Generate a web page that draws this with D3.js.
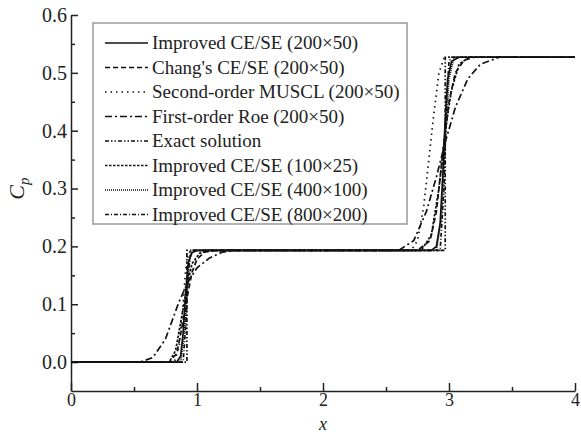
<!DOCTYPE html>
<html>
<head>
<meta charset="utf-8">
<script src="https://cdn.jsdelivr.net/npm/d3@7"></script>
<style>
body { margin: 0; background: #fff; }
svg { display: block; }
text { font-family: 'Liberation Serif', 'Times New Roman', serif; fill: #222; }
</style>
</head>
<body>
<script>
// series points [x, Cp]
var improved200 = [[0,0],[0.84,0],[0.87,0.01],[0.89,0.05],[0.91,0.12],[0.93,0.172],[0.96,0.189],[1.0,0.193],
    [2.86,0.193],[2.9,0.2],[2.93,0.24],[2.95,0.32],[2.97,0.42],[2.99,0.49],[3.02,0.52],[3.08,0.527],[4,0.527]];
var chang200 = [[0,0],[0.78,0],[0.84,0.015],[0.88,0.06],[0.92,0.11],[0.96,0.155],[1.0,0.178],[1.06,0.19],[1.15,0.193],
    [2.75,0.193],[2.85,0.21],[2.9,0.26],[2.95,0.36],[3.0,0.45],[3.05,0.5],[3.12,0.522],[3.2,0.527],[4,0.527]];
var muscl200 = [[0,0],[0.82,0],[0.86,0.03],[0.89,0.1],[0.91,0.16],[0.93,0.188],[0.96,0.193],
    [2.7,0.193],[2.75,0.21],[2.8,0.27],[2.84,0.35],[2.88,0.43],[2.92,0.5],[2.96,0.525],[3.0,0.527],[4,0.527]];
var roe200 = [[0,0],[0.55,0],[0.65,0.008],[0.75,0.04],[0.85,0.1],[0.92,0.135],[1.0,0.163],[1.1,0.18],[1.2,0.19],[1.3,0.193],
    [2.6,0.193],[2.72,0.21],[2.82,0.26],[2.9,0.32],[2.97,0.38],[3.05,0.44],[3.15,0.49],[3.25,0.515],[3.4,0.527],[4,0.527]];
var exact = [[0,0],[0.92,0],[0.92,0.193],[2.97,0.193],[2.97,0.527],[4,0.527]];
var improved100 = [[0,0],[0.78,0],[0.83,0.02],[0.88,0.08],[0.92,0.13],[0.96,0.17],[1.02,0.188],[1.1,0.193],
    [2.78,0.193],[2.86,0.22],[2.92,0.3],[2.97,0.4],[3.02,0.47],[3.08,0.515],[3.16,0.527],[4,0.527]];
var improved400 = [[0,0],[0.87,0],[0.9,0.05],[0.92,0.12],[0.94,0.18],[0.97,0.193],
    [2.9,0.193],[2.94,0.25],[2.97,0.38],[3.0,0.49],[3.04,0.527],[4,0.527]];
var improved800 = [[0,0],[0.89,0],[0.91,0.06],[0.93,0.15],[0.95,0.19],[0.97,0.193],
    [2.93,0.193],[2.96,0.3],[2.98,0.45],[3.0,0.52],[3.02,0.527],[4,0.527]];

var seriesNames = ['Improved CE/SE (200\u00d750)', "Chang's CE/SE (200\u00d750)", 'Second-order MUSCL (200\u00d750)',
    'First-order Roe (200\u00d750)', 'Exact solution', 'Improved CE/SE (100\u00d725)',
    'Improved CE/SE (400\u00d7100)', 'Improved CE/SE (800\u00d7200)'];
var seriesData = [improved200, chang200, muscl200, roe200, exact, improved100, improved400, improved800];
var dashes = ['none', '5,3', '1.5,4', '7,3,2,3', '4,2,1.5,2,1.5,2', '2.5,1.5', '1,1', '4,2,1,2'];

var xTicks = [0, 1, 2, 3, 4];
var xMinor = [0.5, 1.5, 2.5, 3.5];
var yTicks = [0, 0.1, 0.2, 0.3, 0.4, 0.5, 0.6];
var yMinor = [0.05, 0.15, 0.25, 0.35, 0.45, 0.55];

var width = 581, height = 434;
var svg = d3.select('body').append('svg').attr('width', width).attr('height', height);

var x = d3.scaleLinear().domain([0, 4]).range([71, 575]);
var y = d3.scaleLinear().domain([-0.05, 0.6]).range([391, 15]);

// axes, ticks pointing inward
var xAxis = svg.append('g').attr('transform', 'translate(0,' + y(-0.05) + ')')
    .call(d3.axisBottom(x).tickValues(xTicks).tickFormat(d3.format('d')).tickSizeInner(-8).tickSizeOuter(0).tickPadding(2));
svg.append('g').attr('transform', 'translate(0,' + y(-0.05) + ')')
    .call(d3.axisBottom(x).tickValues(xMinor).tickFormat('').tickSizeInner(-4).tickSizeOuter(0))
    .select('.domain').remove();

var yAxis = svg.append('g').attr('transform', 'translate(' + x(0) + ',0)')
    .call(d3.axisLeft(y).tickValues(yTicks).tickFormat(d3.format('.1f')).tickSizeInner(-7).tickSizeOuter(0).tickPadding(4));
svg.append('g').attr('transform', 'translate(' + x(0) + ',0)')
    .call(d3.axisLeft(y).tickValues(yMinor).tickFormat('').tickSizeInner(-4).tickSizeOuter(0))
    .select('.domain').remove();

svg.selectAll('.domain, .tick line').attr('stroke', '#222').attr('stroke-width', 1.5);
svg.selectAll('.tick text').attr('font-size', 20).attr('font-family', "'Liberation Serif', serif").attr('fill', '#222');
xAxis.selectAll('.tick text').attr('font-size', 18);

svg.append('text').attr('x', x(2)).attr('y', 430).attr('text-anchor', 'middle')
    .attr('font-size', 18).attr('font-style', 'italic').text('x');

var cp = svg.append('text').attr('transform', 'translate(24,' + y(0.3) + ') rotate(-90)')
    .attr('text-anchor', 'middle').attr('font-size', 22).attr('font-style', 'italic');
cp.append('tspan').text('C');
cp.append('tspan').attr('font-size', 15).attr('dy', 5).text('p');

// curves
var line = d3.line().x(function(d) { return x(d[0]); }).y(function(d) { return y(d[1]); });
svg.append('g').selectAll('path').data(seriesData).enter().append('path')
    .attr('d', line)
    .attr('fill', 'none')
    .attr('stroke', '#111')
    .attr('stroke-width', 1.7)
    .attr('stroke-dasharray', function(d, i) { return dashes[i]; });

// legend
var legend = svg.append('g');
legend.append('rect').attr('x', 93).attr('y', 23).attr('width', 314).attr('height', 201)
    .attr('fill', '#fff').attr('stroke', '#999').attr('stroke-width', 1.5);
var rows = legend.selectAll('g.row').data(seriesNames).enter().append('g').attr('class', 'row')
    .attr('transform', function(d, i) { return 'translate(0,' + (43 + i * 24.5) + ')'; });
rows.append('line').attr('x1', 105).attr('x2', 148).attr('y1', 0).attr('y2', 0)
    .attr('stroke', '#111').attr('stroke-width', 1.6)
    .attr('stroke-dasharray', function(d, i) { return dashes[i]; });
rows.append('text').attr('x', 152).attr('y', 6).attr('font-size', 19).text(function(d) { return d; });
</script>
</body>
</html>
